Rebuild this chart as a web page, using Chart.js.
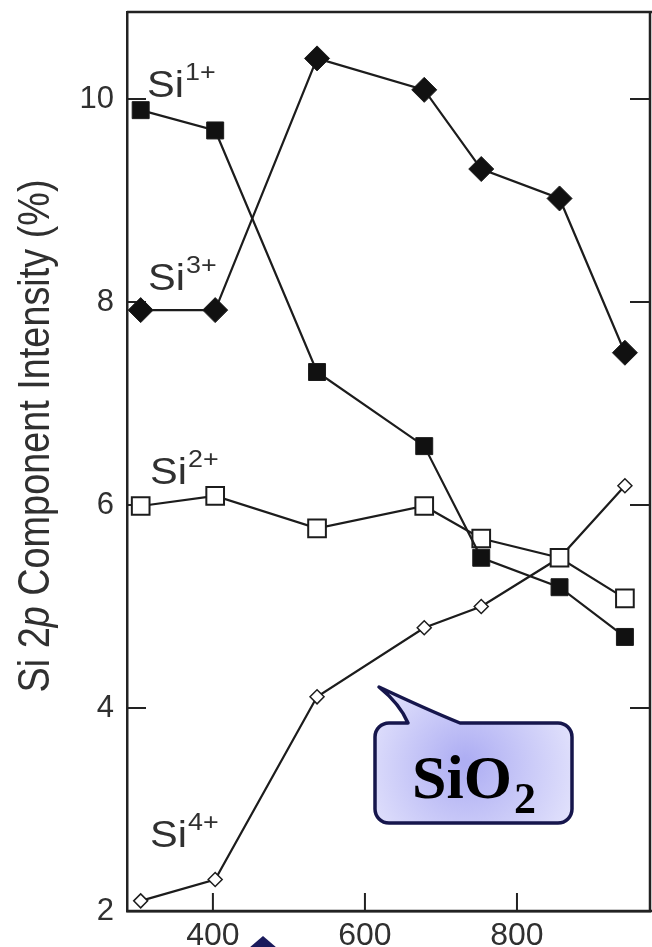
<!DOCTYPE html>
<html>
<head>
<meta charset="utf-8">
<script src="https://cdn.jsdelivr.net/npm/chart.js@4.4.1/dist/chart.umd.min.js"></script>
<style>
html,body{margin:0;padding:0;background:#fff;overflow:hidden}
canvas{display:block}
</style>
</head>
<body>
<canvas id="c" width="652" height="947"></canvas>
<script>
// ---- data ----
const temperatures = [305, 403, 537, 678, 753, 856, 942];
const si1 = [9.89, 9.69, 7.31, 6.58, 5.48, 5.19, 4.70];
const si2 = [5.99, 6.09, 5.77, 5.99, 5.67, 5.48, 5.08];
const si3 = [7.92, 7.92, 10.40, 10.09, 9.31, 9.02, 7.50];
const si4 = [2.10, 2.31, 4.11, 4.79, 5.00, 5.48, 6.19];
const xTickValues = [400, 600, 800];
const yTickValues = [2, 4, 6, 8, 10];
const seriesBase = ['Si', 'Si', 'Si', 'Si'];
const seriesSup = ['1+', '2+', '3+', '4+'];
const yTitleParts = ['Si 2', 'p', ' Component Intensity (%)'];
const calloutText = ['SiO', '2'];

const pts = arr => temperatures.map((t, i) => ({x: t, y: arr[i]}));

const INK = '#1c1c1c';
const TXT = '#303030';
const SANS = '"Liberation Sans", Arial, Helvetica, sans-serif';

const zeroPad = s => { s.paddingLeft = 0; s.paddingRight = 0; s.paddingTop = 0; s.paddingBottom = 0; };

const decor = {
  id: 'decor',
  beforeDatasetsDraw(chart) {
    const {ctx, chartArea: a, scales: {x, y}} = chart;
    ctx.save();
    ctx.strokeStyle = '#222';
    ctx.lineWidth = 2.5;
    ctx.beginPath();
    ctx.moveTo(a.left, a.top); ctx.lineTo(652, a.top);
    ctx.moveTo(a.right, a.top); ctx.lineTo(a.right, a.bottom);
    ctx.moveTo(a.left, a.bottom); ctx.lineTo(652, a.bottom);
    ctx.stroke();
    ctx.lineWidth = 2;
    ctx.beginPath();
    yTickValues.forEach(v => {
      if (v === y.min) return;
      const p = y.getPixelForValue(v);
      ctx.moveTo(a.left, p); ctx.lineTo(a.left + 19, p);
      ctx.moveTo(a.right, p); ctx.lineTo(a.right - 20, p);
    });
    xTickValues.forEach(v => {
      const p = x.getPixelForValue(v);
      ctx.moveTo(p, a.bottom); ctx.lineTo(p, a.bottom - 18);
    });
    ctx.stroke();
    ctx.restore();
  },
  afterDraw(chart) {
    const {ctx} = chart;
    // y-axis title
    ctx.save();
    ctx.translate(37, 436);
    ctx.rotate(-Math.PI / 2);
    const fonts = ['44px ' + SANS, 'italic 44px ' + SANS, '44px ' + SANS];
    let total = 0;
    const widths = yTitleParts.map((s, i) => { ctx.font = fonts[i]; const w = ctx.measureText(s).width; total += w; return w; });
    const k = 513 / total;
    ctx.scale(k, 1);
    ctx.fillStyle = TXT;
    ctx.textBaseline = 'middle';
    let cx = -total / 2;
    yTitleParts.forEach((s, i) => { ctx.font = fonts[i]; ctx.fillText(s, cx, 0); cx += widths[i]; });
    ctx.restore();

    // series labels
    const labelPos = [[147, 97], [150, 484], [148, 290], [150, 847]];
    ctx.save();
    ctx.fillStyle = TXT;
    ctx.textBaseline = 'alphabetic';
    seriesBase.forEach((b, i) => {
      const [lx, ly] = labelPos[i];
      ctx.save();
      ctx.translate(lx, ly);
      ctx.scale(1.12, 1);
      ctx.font = '37px ' + SANS;
      ctx.fillText(b, 0, 0);
      const w = ctx.measureText(b).width;
      ctx.font = '24px ' + SANS;
      ctx.fillText(seriesSup[i], w + 1, -17);
      ctx.restore();
    });
    ctx.restore();

    // callout
    ctx.save();
    const L = 375, T = 723, R = 572, B = 823, r = 14;
    ctx.beginPath();
    ctx.moveTo(L + r, T);
    ctx.lineTo(408, T);
    ctx.quadraticCurveTo(400, 704, 379, 687);
    ctx.quadraticCurveTo(428, 710, 460, T);
    ctx.lineTo(R - r, T);
    ctx.arcTo(R, T, R, T + r, r);
    ctx.lineTo(R, B - r);
    ctx.arcTo(R, B, R - r, B, r);
    ctx.lineTo(L + r, B);
    ctx.arcTo(L, B, L, B - r, r);
    ctx.lineTo(L, T + r);
    ctx.arcTo(L, T, L + r, T, r);
    ctx.closePath();
    const g = ctx.createRadialGradient(465, 762, 4, 470, 772, 125);
    g.addColorStop(0, '#aeaef3');
    g.addColorStop(1, '#e8e8fd');
    ctx.fillStyle = g;
    ctx.fill();
    ctx.lineJoin = 'round';
    ctx.lineWidth = 3.5;
    ctx.strokeStyle = '#16164c';
    ctx.stroke();
    ctx.fillStyle = '#000';
    ctx.textBaseline = 'alphabetic';
    ctx.font = 'bold 62px "Liberation Serif", "Times New Roman", serif';
    ctx.fillText(calloutText[0], 412, 798);
    const sw = ctx.measureText(calloutText[0]).width;
    ctx.font = 'bold 44px "Liberation Serif", "Times New Roman", serif';
    ctx.fillText(calloutText[1], 412 + sw + 2, 813);

    // partial pointer at bottom edge
    ctx.beginPath();
    ctx.moveTo(263, 936);
    ctx.lineTo(249, 948);
    ctx.lineTo(277, 948);
    ctx.closePath();
    ctx.fillStyle = '#1a1a5c';
    ctx.fill();
    ctx.restore();
  }
};

const ds = (data, style, radius, fill, bw) => ({
  data: pts(data),
  borderColor: INK,
  borderWidth: 2.2,
  pointStyle: style,
  pointRadius: radius,
  pointBackgroundColor: fill,
  pointBorderColor: INK,
  pointBorderWidth: bw,
  tension: 0,
  clip: false
});

new Chart(document.getElementById('c'), {
  type: 'line',
  data: {
    datasets: [
      ds(si1, 'rect', 12, '#111', 1),
      ds(si2, 'rect', 12.5, '#fff', 2),
      ds(si3, 'rectRot', 12.5, '#111', 1),
      ds(si4, 'rectRot', 7, '#fff', 1.5)
    ]
  },
  options: {
    responsive: false,
    devicePixelRatio: 1,
    animation: false,
    events: [],
    layout: {autoPadding: false, padding: {top: 12, right: 2, left: 0, bottom: 0}},
    plugins: {legend: {display: false}, tooltip: {enabled: false}, title: {display: false}},
    scales: {
      x: {
        type: 'linear',
        min: 287, max: 975,
        afterBuildTicks: s => { s.ticks = xTickValues.map(v => ({value: v})); },
        afterFit: s => { s.height = 36; zeroPad(s); },
        grid: {display: false, drawTicks: false},
        border: {display: true, color: '#222', width: 2.5},
        ticks: {color: TXT, font: {family: SANS, size: 32}, padding: 6, maxRotation: 0, autoSkip: false, callback: v => String(v)}
      },
      y: {
        type: 'linear',
        min: 2, max: 10.857,
        afterBuildTicks: s => { s.ticks = yTickValues.map(v => ({value: v})); },
        afterFit: s => { s.width = 127; zeroPad(s); },
        grid: {display: false, drawTicks: false},
        border: {display: true, color: '#222', width: 2.5},
        ticks: {color: TXT, font: {family: SANS, size: 31}, padding: 13, autoSkip: false, callback: v => String(v)}
      }
    }
  },
  plugins: [decor]
});
</script>
</body>
</html>
